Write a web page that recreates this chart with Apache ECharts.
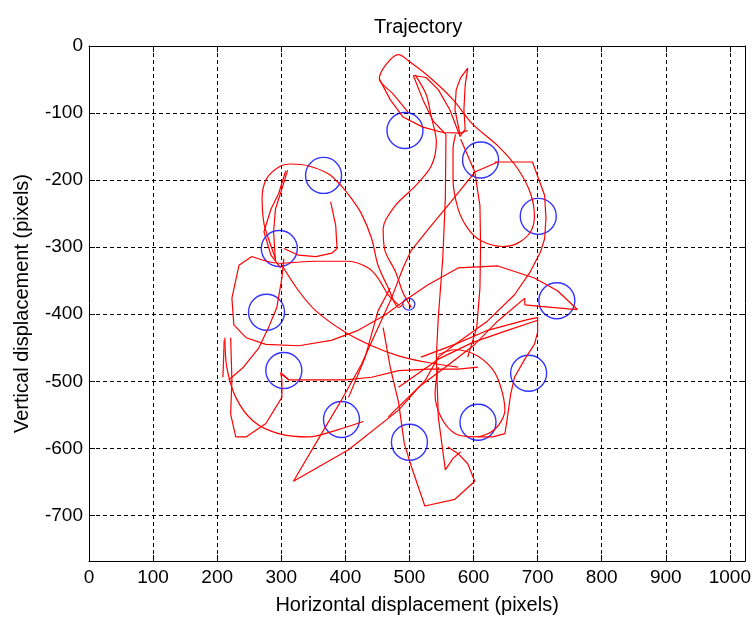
<!DOCTYPE html>
<html><head><meta charset="utf-8">
<script src="https://cdn.jsdelivr.net/npm/echarts@6/dist/echarts.min.js"></script>
<style>html,body{margin:0;padding:0;background:#fff;overflow:hidden}#c{width:754px;height:620px}</style>
</head><body><div id="c"></div>
<script>
const xTicks = [0,100,200,300,400,500,600,700,800,900,1000];
const yTicks = [-700,-600,-500,-400,-300,-200,-100,0];
const targetX = [493,611,701,730,686,607,500,394,304,277,297,366];
const targetY = [-126,-170,-254,-380,-488,-561,-591,-557,-484,-397,-302,-193];
const centerTarget = [499,-385];

const stroke01 = [[498,-99],[475,-72],[453,-49],[464,-27],[483,-13],[501,-24],[532,-47],[568,-80],[599,-117],[638,-149],[669,-183],[689,-220],[695,-254],[689,-277],[669,-294],[646,-299],[611,-290],[591,-272],[576,-243],[568,-198],[568,-154],[572,-132]];
const stroke02 = [[453,-49],[470,-80],[490,-106],[521,-121],[552,-129],[579,-130],[591,-126]];
const stroke03 = [[579,-132],[571,-95],[573,-65],[580,-47],[591,-33],[587,-58],[585,-95],[587,-124],[579,-135]];
const stroke04 = [[506,-44],[526,-47],[545,-65],[563,-95],[579,-135]];
const stroke05 = [[506,-44],[521,-80],[537,-112],[557,-132]];
const stroke06 = [[509,-43],[526,-72],[534,-105],[542,-143],[534,-179],[509,-209],[478,-238],[459,-272],[462,-306],[478,-336],[490,-368],[503,-390]];
const stroke07 = [[557,-132],[556,-228],[552,-317],[545,-405],[542,-464],[545,-553],[556,-632],[568,-615],[580,-605]];
const stroke08 = [[580,-139],[602,-188],[610,-238],[611,-297],[610,-361],[605,-420],[591,-464]];
const stroke09 = [[633,-173],[692,-173],[711,-223],[713,-257],[711,-287],[705,-306],[689,-336],[664,-371],[622,-410],[571,-445],[545,-464],[525,-498],[483,-543],[405,-602],[319,-649],[369,-568],[394,-528],[425,-475],[451,-420],[472,-376],[490,-331],[502,-306],[534,-268],[565,-232],[602,-188],[638,-173]];
const stroke10 = [[291,-317],[280,-287],[273,-265],[270,-228],[277,-198],[297,-180],[315,-176],[343,-179],[374,-191],[394,-209],[410,-228],[425,-250],[441,-287],[451,-327],[467,-361],[483,-390],[490,-385]];
const stroke11 = [[310,-185],[301,-213],[291,-243],[288,-277],[291,-321]];
const stroke12 = [[307,-186],[296,-220],[284,-243],[273,-277],[284,-312],[299,-331]];
const stroke13 = [[377,-232],[385,-268],[387,-302],[379,-309],[354,-314],[327,-312],[304,-302]];
const stroke14 = [[254,-314],[296,-324],[354,-321],[405,-321],[436,-331],[451,-346],[467,-371],[483,-386]];
const stroke15 = [[301,-327],[327,-365],[354,-395],[400,-427],[441,-447],[483,-462],[529,-472],[576,-479]];
const stroke16 = [[301,-490],[312,-498],[327,-498],[400,-498],[441,-494],[483,-484],[529,-482],[576,-482],[607,-479]];
const stroke17 = [[254,-314],[234,-327],[223,-376],[226,-416],[245,-435],[276,-445],[327,-447],[378,-439],[420,-424],[462,-401],[498,-376],[529,-356],[576,-331],[638,-328],[695,-346],[731,-365],[762,-393],[700,-388],[680,-386],[680,-376]];
const stroke18 = [[518,-464],[571,-445],[622,-424],[684,-408],[700,-405],[700,-427],[695,-445],[680,-467],[664,-494],[658,-519],[653,-553],[649,-578],[630,-583],[607,-583]];
const stroke19 = [[483,-509],[545,-467],[599,-442],[653,-424],[700,-409]];
const stroke20 = [[545,-479],[540,-519],[549,-553],[571,-578],[602,-583],[633,-572],[649,-543],[641,-504],[627,-479],[602,-460],[571,-453],[545,-460]];
const stroke21 = [[459,-420],[470,-479],[483,-531],[492,-593],[503,-627],[524,-686],[571,-676],[602,-649],[591,-623],[576,-608],[560,-598]];
const stroke22 = [[212,-435],[215,-479],[229,-524],[257,-560],[296,-578],[343,-583],[389,-572],[428,-560]];
const stroke23 = [[221,-435],[223,-498],[221,-549],[229,-583],[245,-583],[276,-563],[301,-524],[301,-498],[299,-487],[312,-498]];
const stroke24 = [[211,-439],[209,-494]];
const stroke25 = [[218,-498],[241,-479],[265,-450],[280,-420],[293,-390],[301,-346],[304,-317]];
const stroke26 = [[405,-524],[431,-464],[451,-395],[470,-361]];
const stroke27 = [[467,-553],[514,-509],[556,-479],[602,-445],[638,-410],[680,-376]];

const strokes = [stroke01,stroke02,stroke03,stroke04,stroke05,stroke06,stroke07,stroke08,stroke09,stroke10,
  stroke11,stroke12,stroke13,stroke14,stroke15,stroke16,stroke17,stroke18,stroke19,stroke20,
  stroke21,stroke22,stroke23,stroke24,stroke25,stroke26,stroke27];
const smoothStrokes = [stroke01,stroke06,stroke10,stroke14,stroke15,stroke20,stroke22];

const FONT = 'Liberation Sans';
const chart = echarts.init(document.getElementById('c'), null, {renderer:'canvas'});

function mkX(pos, show){
  return {type:'value', position:pos, min:0, max:1024, interval:100,
    axisLine:{show:true, onZero:false, lineStyle:{color:'#000', width:1}},
    axisTick:{show:true, inside:true, length:6, customValues:xTicks, lineStyle:{color:'#000'}},
    axisLabel:{show:show, customValues:xTicks, formatter:(v)=>String(v), color:'#000', fontFamily:FONT, fontSize:19, margin:7},
    splitLine:{show:show, lineStyle:{color:'#000', type:[4,3], width:1}},
    name: show ? 'Horizontal displacement (pixels)' : '', nameLocation:'middle', nameGap:34,
    nameTextStyle:{color:'#000', fontFamily:FONT, fontSize:20}};
}
function mkY(pos, show){
  return {type:'value', position:pos, min:-768, max:0,
    axisLine:{show:true, onZero:false, lineStyle:{color:'#000', width:1}},
    axisTick:{show:true, inside:true, length:6, customValues:yTicks, lineStyle:{color:'#000'}},
    axisLabel:{show:show, customValues:yTicks, formatter:(v)=>String(v), color:'#000', fontFamily:FONT, fontSize:19, margin:6},
    splitLine:{show:show, lineStyle:{color:'#000', type:[4,3], width:1}},
    name: show ? 'Vertical displacement (pixels)' : '', nameLocation:'middle', nameGap:57,
    nameTextStyle:{color:'#000', fontFamily:FONT, fontSize:20}};
}

const series = [];
series.push({type:'scatter', xAxisIndex:0, yAxisIndex:0, symbol:'circle', symbolSize:36,
  data: targetX.map((x,i)=>[x,targetY[i]]),
  itemStyle:{color:'rgba(0,0,0,0)', borderColor:'#0000ff', borderWidth:1.4}, z:2});
series.push({type:'scatter', xAxisIndex:0, yAxisIndex:0, symbol:'circle', symbolSize:12,
  data: [centerTarget],
  itemStyle:{color:'rgba(0,0,0,0)', borderColor:'#0000ff', borderWidth:1.3}, z:2});
strokes.forEach(s=>{
  series.push({type:'line', xAxisIndex:0, yAxisIndex:0, data:s, showSymbol:false, symbol:'none',
    smooth: smoothStrokes.includes(s) ? 0.3 : false,
    lineStyle:{color:'#ff0000', width:1.2}, z:3, silent:true});
});

chart.setOption({
  animation:false,
  backgroundColor:'#fff',
  title:{text:'Trajectory', left:369, top:12, textStyle:{color:'#000', fontFamily:FONT, fontSize:20, fontWeight:'normal'}},
  grid:{left:89, right:4, top:46, bottom:55, containLabel:false},
  xAxis:[mkX('bottom', true), mkX('top', false)],
  yAxis:[mkY('left', true), mkY('right', false)],
  series: series
});
</script></body></html>
